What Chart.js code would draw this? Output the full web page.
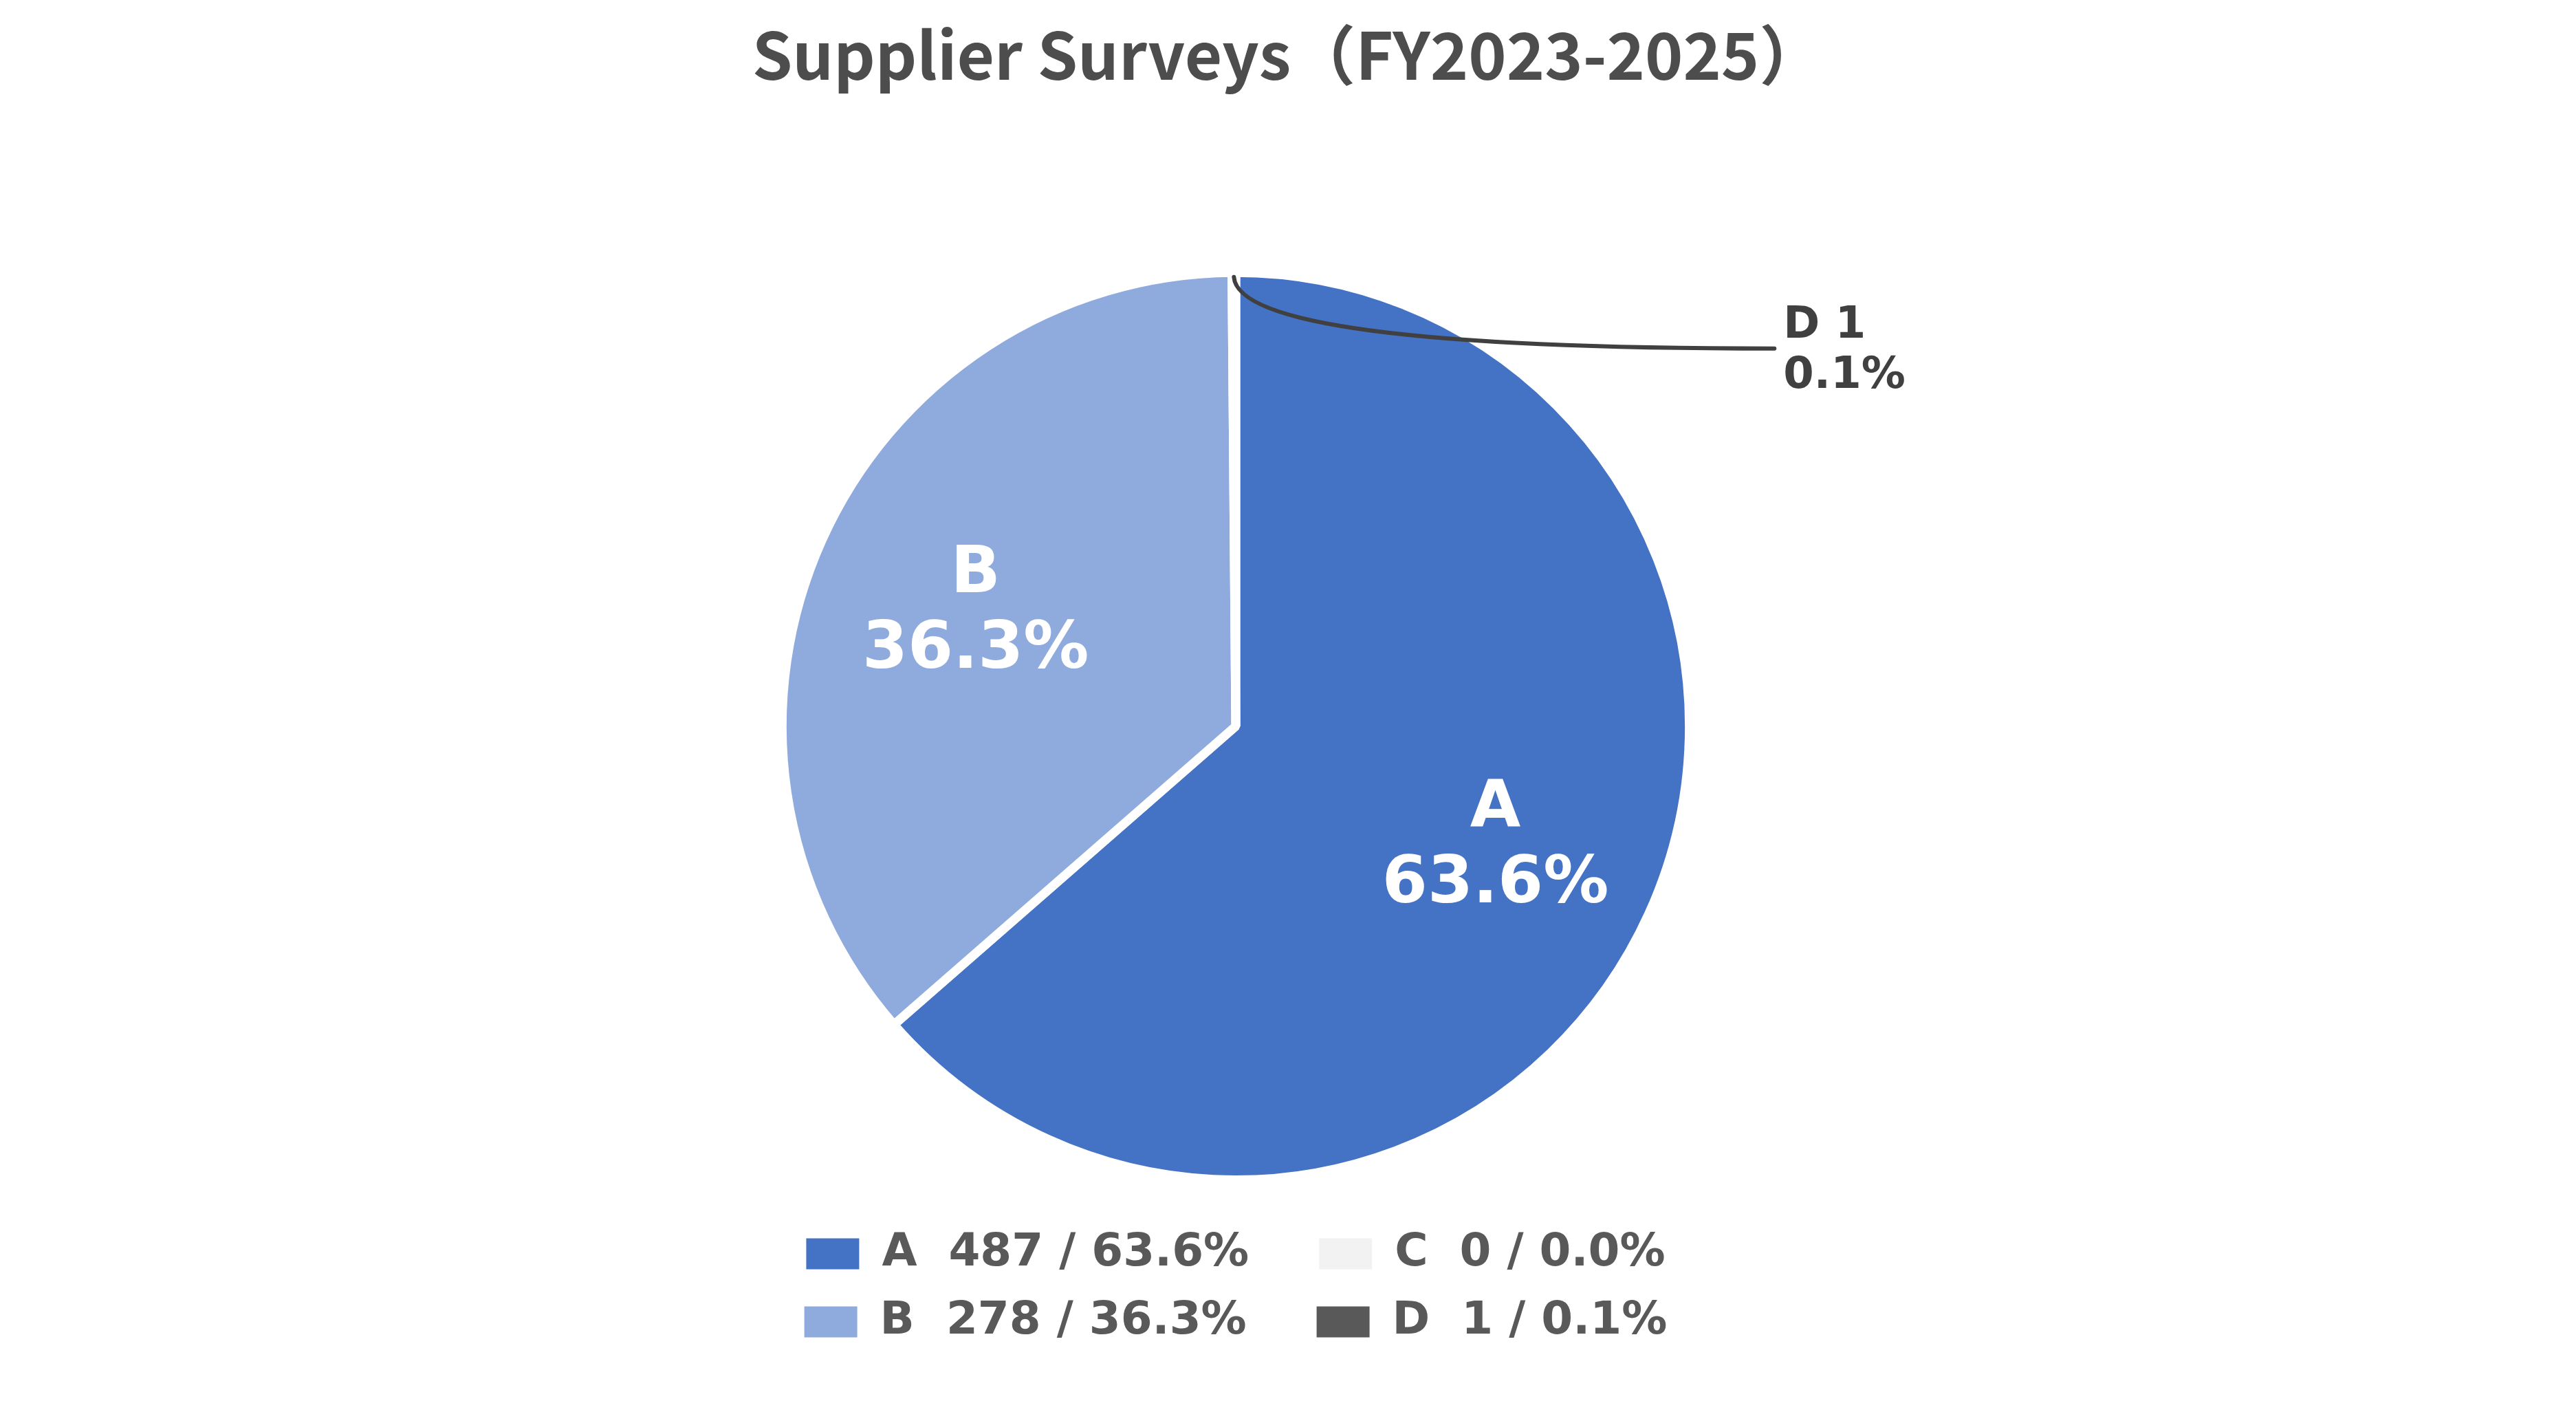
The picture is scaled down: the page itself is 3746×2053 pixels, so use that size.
<!DOCTYPE html>
<html>
<head>
<meta charset="utf-8">
<script src="https://cdn.jsdelivr.net/npm/chart.js@4.4.1/dist/chart.umd.min.js"></script>
<style>
html,body{margin:0;padding:0;background:#ffffff;}
#wrap{width:3746px;height:2053px;position:relative;}
</style>
</head>
<body>
<div id="wrap"><canvas id="c"></canvas></div>
<script>
// ---- data ----
const TITLE = 'Supplier Surveys（FY2023-2025）';
const categories = ['A', 'B', 'C', 'D'];
const counts = [487, 278, 0, 1];
const colors = ['#4472C4', '#8FAADC', '#F2F2F2', '#595959'];
const legendOrder = ['A', 'C', 'B', 'D'];
const calloutCategories = ['D'];

const total = counts.reduce((a, b) => a + b, 0);
const pct = v => (v / total * 100).toFixed(1);

const BW = 13;

const sliceLabels = {
  id: 'sliceLabels',
  afterDatasetsDraw(chart) {
    const ctx = chart.ctx;
    const meta = chart.getDatasetMeta(0);
    ctx.save();
    meta.data.forEach((arc, i) => {
      const v = counts[i];
      if (!v) return;
      const p = arc.getProps(['x', 'y', 'startAngle', 'endAngle', 'outerRadius'], true);
      const mid = (p.startAngle + p.endAngle) / 2;
      const rVis = p.outerRadius - BW / 2;
      const name = categories[i];
      if (calloutCategories.includes(name)) {
        const ax = p.x + Math.cos(mid) * rVis;
        const ay = p.y + Math.sin(mid) * rVis;
        const ex = ax + 786, ey = ay + 104;
        ctx.strokeStyle = '#404040';
        ctx.lineWidth = 6;
        ctx.lineCap = 'round';
        ctx.beginPath();
        ctx.moveTo(ax, ay);
        ctx.quadraticCurveTo(ax + 8, ey, ex, ey);
        ctx.stroke();
        ctx.fillStyle = '#404040';
        ctx.font = 'bold 64px "DejaVu Sans"';
        ctx.textAlign = 'left';
        ctx.textBaseline = 'middle';
        ctx.fillText(name + ' ' + v, ex + 13, ey - 32);
        ctx.fillText(pct(v) + '%', ex + 13, ey + 41);
      } else {
        const r = rVis * 0.635;
        const lx = p.x + Math.cos(mid) * r;
        const ly = p.y + Math.sin(mid) * r;
        ctx.fillStyle = '#ffffff';
        ctx.font = 'bold 95px "DejaVu Sans"';
        ctx.textAlign = 'center';
        ctx.textBaseline = 'middle';
        ctx.fillText(name, lx, ly - 50);
        ctx.fillText(pct(v) + '%', lx, ly + 60);
      }
    });
    ctx.restore();
  }
};

new Chart(document.getElementById('c'), {
  type: 'pie',
  data: {
    labels: categories,
    datasets: [{
      data: counts,
      backgroundColor: colors,
      borderColor: '#ffffff',
      borderWidth: BW
    }]
  },
  options: {
    responsive: true,
    maintainAspectRatio: false,
    devicePixelRatio: 1,
    animation: false,
    radius: '94.97%',
    layout: { padding: { left: 997, right: 997, top: 0, bottom: 88 } },
    scales: {
      spacer: {
        type: 'linear',
        position: 'right',
        display: true,
        ticks: { display: false },
        grid: { display: false },
        border: { display: false },
        afterFit(s) { s.width = 152; }
      }
    },
    plugins: {
      tooltip: { enabled: false },
      title: {
        display: true,
        text: TITLE,
        color: '#4d4d4d',
        font: { family: '"Noto Sans CJK JP"', size: 94, weight: 'bold', lineHeight: 1.2 },
        padding: { top: 24, bottom: 218 }
      },
      legend: {
        position: 'bottom',
        fullSize: false,
        labels: {
          boxWidth: 77,
          boxHeight: 45,
          padding: 33,
          color: '#595959',
          font: { family: '"DejaVu Sans"', size: 66, weight: 'bold' },
          generateLabels(chart) {
            return categories.map((c, i) => ({
              text: c + '  ' + counts[i] + ' / ' + pct(counts[i]) + '%' + (legendOrder.indexOf(c) % 2 === 0 ? '   ' : ''),
              fillStyle: colors[i],
              strokeStyle: colors[i],
              lineWidth: 0,
              fontColor: '#595959',
              hidden: false,
              index: i
            }));
          },
          sort: (a, b) => legendOrder.indexOf(categories[a.index]) - legendOrder.indexOf(categories[b.index])
        }
      }
    }
  },
  plugins: [sliceLabels]
});
</script>
</body>
</html>
